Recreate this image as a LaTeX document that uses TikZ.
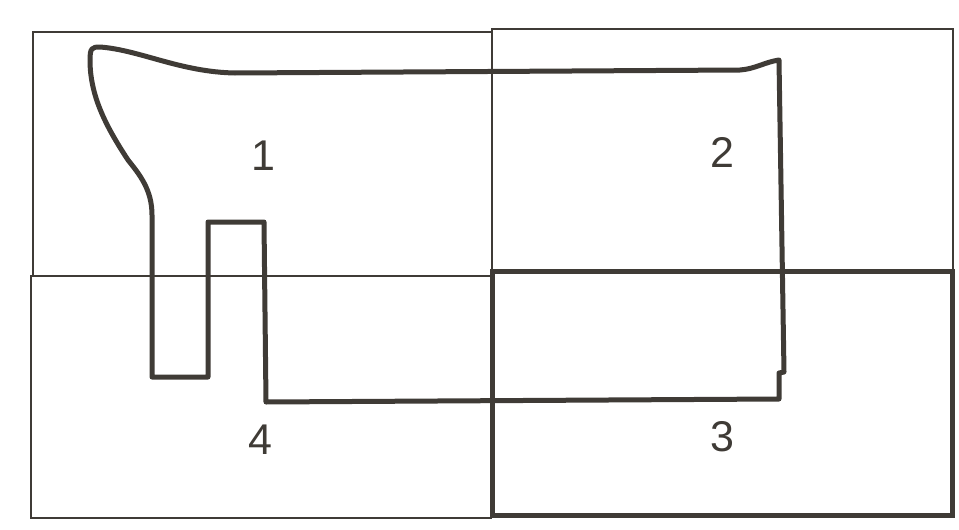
\documentclass[tikz,border=0pt]{standalone}
\usepackage{fontspec}
\setmainfont{Liberation Sans}
\definecolor{ink}{HTML}{3F3B36}
\begin{document}
\begin{tikzpicture}[x=1pt,y=-1pt,
  thinbox/.style={draw=ink,line width=1.3pt},
  thickline/.style={draw=ink,line width=5pt,line join=round,line cap=round},
  lbl/.style={text=ink,font=\fontsize{43}{43}\selectfont,inner sep=0pt}]
\useasboundingbox (0,0) rectangle (959,530);
% thin quadrants
\draw[thinbox] (33,32) rectangle (492,276);
\draw[thinbox] (492,29) rectangle (953,271);
\draw[thinbox] (31,276) rectangle (491,518);
% thick quadrant 3
\draw[thickline,line cap=butt,line join=miter] (492,271) rectangle (952,515);
% thick outline
\draw[thickline]
  (152,377) -- (152,215)
  .. controls (152,190) and (140,175) .. (128,160)
  .. controls (105,125) and (90,95) .. (90,60)
  .. controls (90,48) and (92,47) .. (100,47)
  .. controls (140,50) and (180,72) .. (235,73)
  -- (740,70)
  .. controls (755,69) and (765,62) .. (779,60)
  -- (784,372) -- (779,373) -- (779,399)
  -- (266,402) -- (264,222) -- (208,222) -- (208,377) -- cycle;
\node[lbl] (n1) at (263,156) {1};
\node[lbl] (n2) at (722,152) {2};
\node[lbl] (n3) at (722,437) {3};
\node[lbl] (n4) at (260,440) {4};
\end{tikzpicture}
\end{document}
